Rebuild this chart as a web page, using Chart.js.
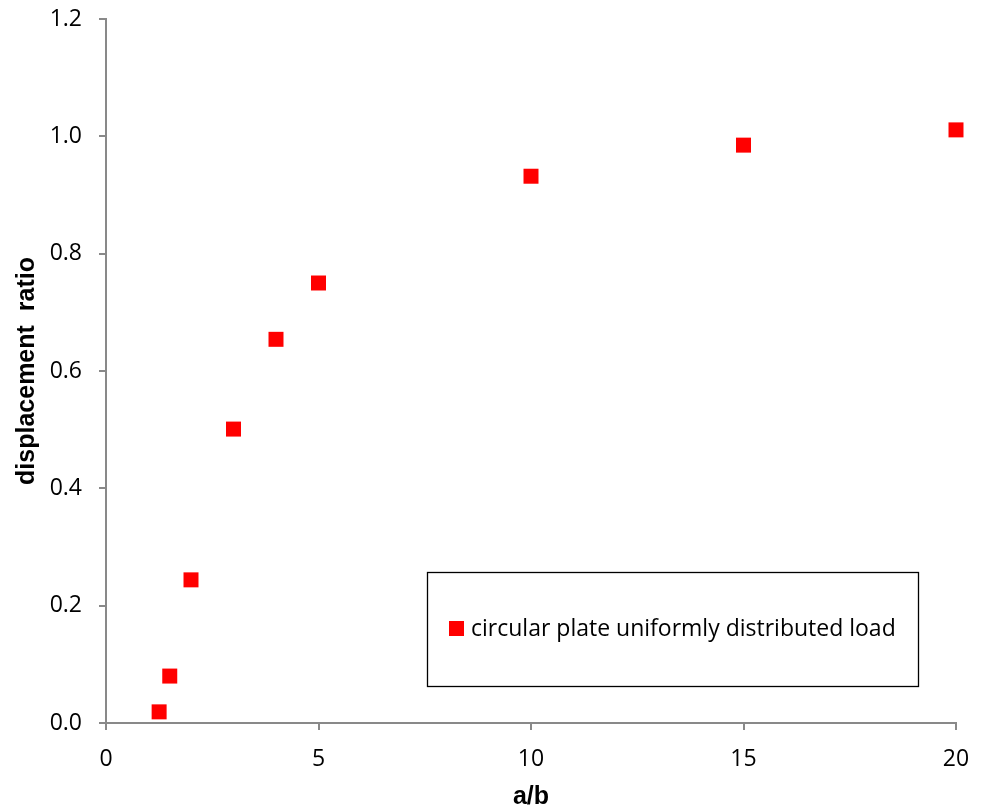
<!DOCTYPE html>
<html>
<head>
<meta charset="utf-8">
<script src="https://cdn.jsdelivr.net/npm/chart.js@4.4.0/dist/chart.umd.min.js"></script>
<style>
html,body{margin:0;padding:0;background:#fff;}
#wrap{width:982px;height:812px;position:relative;}
</style>
</head>
<body>
<div id="wrap"><canvas id="c" width="982" height="812"></canvas></div>
<script>
const seriesLabel = "circular plate uniformly distributed load";
const abValues = [1.25, 1.5, 2, 3, 4, 5, 10, 15, 20];
const ratioValues = [0.019, 0.080, 0.244, 0.501, 0.654, 0.750, 0.932, 0.985, 1.011];
const xTicks = [0, 5, 10, 15, 20];
const yTicks = [0, 0.2, 0.4, 0.6, 0.8, 1.0, 1.2];
const xTitle = "a/b";
const yTitle = "displacement  ratio";

const FONT = "'Open Sans', Lato, sans-serif";
const TFONT = "'Liberation Sans', Arial, sans-serif";
const AXIS = "#898989";

const legendBox = {
  id: 'legendBox',
  afterDraw(chart) {
    const ctx = chart.ctx;
    const a = chart.chartArea;
    const x0 = Math.round(a.left) + 321, y0 = Math.round(a.top) + 553, w = 491, h = 114;
    ctx.save();
    ctx.strokeStyle = '#000';
    ctx.lineWidth = 1.3;
    ctx.strokeRect(x0 + 0.5, y0 + 0.5, w, h);
    ctx.fillStyle = '#ff0000';
    ctx.fillRect(x0 + 22, y0 + 49, 15, 15);
    ctx.fillStyle = '#000';
    ctx.font = "23px " + FONT;
    ctx.textBaseline = 'middle';
    ctx.fillText(chart.data.datasets[0].label, x0 + 44, y0 + 57);
    ctx.restore();
  }
};

new Chart(document.getElementById('c'), {
  type: 'scatter',
  data: {
    datasets: [{
      label: seriesLabel,
      data: abValues.map((v, i) => ({x: v, y: ratioValues[i]})),
      pointStyle: 'rect',
      pointRadius: 10.6,
      backgroundColor: '#ff0000',
      borderColor: '#ff0000',
      borderWidth: 0,
      clip: false
    }]
  },
  options: {
    responsive: false,
    animation: false,
    layout: {padding: {left: 0, top: 19, right: 26, bottom: 0}},
    plugins: {legend: {display: false}, tooltip: {enabled: false}},
    scales: {
      x: {
        type: 'linear', min: 0, max: 20,
        afterBuildTicks(s) { s.ticks = xTicks.map(v => ({value: v})); },
        afterFit(s) { s.height = 89; s.paddingLeft = 0; s.paddingRight = 0; },
        border: {color: AXIS, width: 2},
        grid: {display: true, drawOnChartArea: false, drawTicks: true, tickLength: 7, color: AXIS, lineWidth: 2},
        ticks: {color: '#000', font: {family: FONT, size: 23}, padding: 16, maxRotation: 0},
        title: {display: true, text: xTitle, color: '#000', font: {family: TFONT, size: 25, weight: 'bold'}, padding: {top: 0, bottom: 0}}
      },
      y: {
        type: 'linear', min: 0, max: 1.2,
        afterBuildTicks(s) { s.ticks = yTicks.map(v => ({value: v})); },
        afterFit(s) { s.width = 106; s.paddingTop = 0; s.paddingBottom = 0; },
        border: {color: AXIS, width: 2},
        grid: {display: true, drawOnChartArea: false, drawTicks: true, tickLength: 7, color: AXIS, lineWidth: 2},
        ticks: {color: '#000', font: {family: FONT, size: 23}, padding: 17, callback: v => v.toFixed(1)},
        title: {display: true, text: yTitle, color: '#000', font: {family: TFONT, size: 25, weight: 'bold'}, padding: {top: 12, bottom: 12}}
      }
    }
  },
  plugins: [legendBox]
});
</script>
</body>
</html>
